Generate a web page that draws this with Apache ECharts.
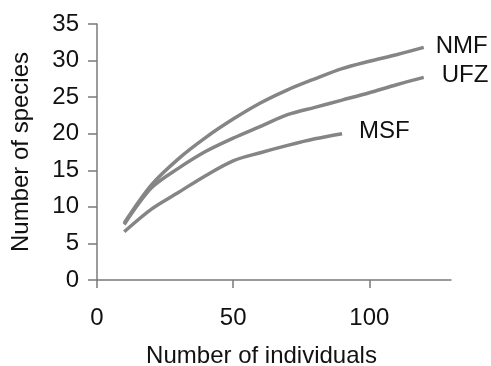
<!DOCTYPE html>
<html>
<head>
<meta charset="utf-8">
<script src="https://cdn.jsdelivr.net/npm/echarts@6/dist/echarts.min.js"></script>
<style>html,body{margin:0;padding:0;background:#fff}#c{width:491px;height:366px}</style>
</head>
<body>
<div id="c"></div>
<script>
var xNMF = [10, 20, 30, 40, 50, 60, 70, 80, 90, 100, 110, 120];
var yNMF = [7.8, 13.0, 16.6, 19.5, 22.0, 24.2, 26.0, 27.5, 28.9, 29.9, 30.8, 31.8];
var xUFZ = [10, 20, 30, 40, 50, 60, 70, 80, 90, 100, 110, 120];
var yUFZ = [7.6, 12.6, 15.3, 17.6, 19.4, 21.0, 22.6, 23.6, 24.6, 25.6, 26.7, 27.7];
var xMSF = [10, 20, 30, 40, 50, 60, 70, 80, 90];
var yMSF = [6.6, 9.7, 12.0, 14.3, 16.3, 17.4, 18.4, 19.3, 20.0];
var xTicks = [0, 50, 100];
var yTicks = [0, 5, 10, 15, 20, 25, 30, 35];

function pairs(xs, ys) { return xs.map(function (x, i) { return [x, ys[i]]; }); }

var font = 'Liberation Sans, Arial, sans-serif';
var lineColor = '#858585';
var axisColor = '#7a7a7a';

function mkSeries(name, xs, ys, dist, off) {
  return {
    name: name, type: 'line', data: pairs(xs, ys), smooth: 0.3,
    showSymbol: false, symbol: 'none', animation: false,
    lineStyle: { color: lineColor, width: 3.5 },
    endLabel: { show: true, formatter: '{a}', color: '#111', fontSize: 24,
      fontFamily: font, distance: dist, offset: off }
  };
}

var chart = echarts.init(document.getElementById('c'));
chart.setOption({
  backgroundColor: '#fff',
  animation: false,
  grid: { left: 97, right: 40, top: 24, bottom: 86, containLabel: false, outerBoundsMode: 'none' },
  xAxis: {
    type: 'value', min: 0, max: 130, interval: 50,
    name: 'Number of individuals', nameLocation: 'middle', nameGap: 64,
    nameTextStyle: { color: '#111', fontSize: 24, fontFamily: font, padding: [0, 25, 0, 0] },
    axisLine: { show: true, lineStyle: { color: axisColor, width: 1.5 } },
    axisTick: { show: true, inside: false, length: 8, customValues: xTicks, lineStyle: { color: axisColor, width: 1.5 } },
    axisLabel: { color: '#111', fontSize: 24, fontFamily: font, margin: 26, customValues: xTicks },
    splitLine: { show: false }
  },
  yAxis: {
    type: 'value', min: 0, max: 35, interval: 5,
    name: 'Number of species', nameLocation: 'middle', nameGap: 64, nameRotate: 90,
    nameTextStyle: { color: '#111', fontSize: 24, fontFamily: font },
    axisLine: { show: true, lineStyle: { color: axisColor, width: 1.5 } },
    axisTick: { show: true, inside: false, length: 9, lineStyle: { color: axisColor, width: 1.5 } },
    axisLabel: { color: '#111', fontSize: 24, fontFamily: font, margin: 18 },
    splitLine: { show: false }
  },
  series: [
    mkSeries('NMF', xNMF, yNMF, 12, [0, -1]),
    mkSeries('UFZ', xUFZ, yUFZ, 18, [0, -2]),
    mkSeries('MSF', xMSF, yMSF, 17, [0, -2])
  ]
});
</script>
</body>
</html>
